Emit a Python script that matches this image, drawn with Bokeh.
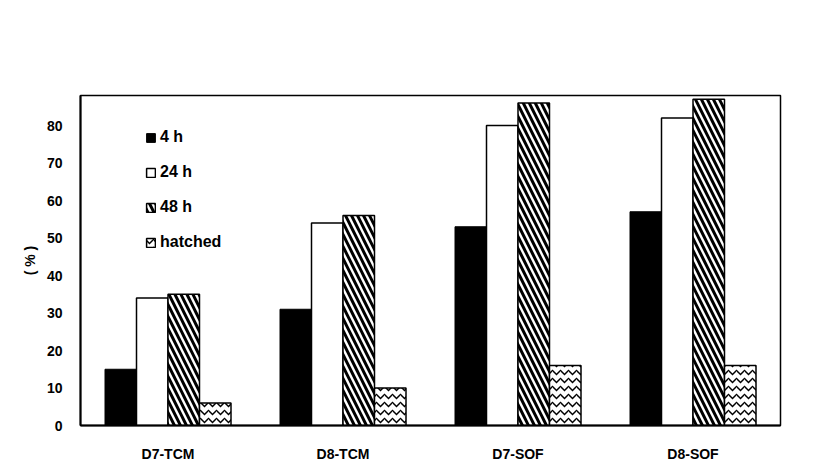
from bokeh.plotting import figure
from bokeh.models import FactorRange, Legend, LegendItem, SingleIntervalTicker, CustomJSTickFormatter
from bokeh.transform import dodge
from bokeh.models import ColumnDataSource
from bokeh.embed import file_html
from bokeh.resources import INLINE

groups = ["D7-TCM", "D8-TCM", "D7-SOF", "D8-SOF"]
h4 = [15, 31, 53, 57]
h24 = [34, 54, 80, 82]
h48 = [35, 56, 86, 87]
hatched = [6, 10, 16, 16]
series_labels = ["4 h", "24 h", "48 h", "hatched"]

src = ColumnDataSource(dict(g=groups, h4=h4, h24=h24, h48=h48, hatched=hatched))

p = figure(width=834, height=473, x_range=FactorRange(*groups), y_range=(0, 88),
           output_backend="svg", toolbar_location=None,
           min_border_left=80, min_border_right=54, min_border_top=95, min_border_bottom=48)

FONT = "Liberation Sans"
w = 0.18
r1 = p.vbar(x=dodge("g", -0.27, range=p.x_range), top="h4", width=w, source=src,
            fill_color="black", line_color="black")
r2 = p.vbar(x=dodge("g", -0.09, range=p.x_range), top="h24", width=w, source=src,
            fill_color="white", line_color="black", line_width=1.5)
r3 = p.vbar(x=dodge("g", 0.09, range=p.x_range), top="h48", width=w, source=src,
            fill_color="white", line_color="black", line_width=1.5,
            hatch_pattern="\\", hatch_color="black", hatch_weight=3, hatch_scale=12)
r4 = p.vbar(x=dodge("g", 0.27, range=p.x_range), top="hatched", width=w, source=src,
            fill_color="white", line_color="black", line_width=1.5,
            hatch_pattern="v", hatch_color="black", hatch_weight=1.5, hatch_scale=8)

legend = Legend(items=[LegendItem(label=l, renderers=[r]) for l, r in
                       zip(series_labels, [r1, r2, r3, r4])],
                location=(65, 174))
legend.padding = 0
legend.margin = 0
legend.glyph_width = 11
legend.glyph_height = 11
legend.label_height = 18
legend.label_standoff = 4
legend.spacing = 17
legend.label_text_font = FONT
legend.label_text_font_style = "bold"
legend.label_text_font_size = "16px"
legend.label_text_color = "black"
legend.border_line_color = None
legend.background_fill_alpha = 0
p.add_layout(legend, "center")

p.yaxis.ticker = SingleIntervalTicker(interval=10)
p.yaxis.formatter = CustomJSTickFormatter(code="return tick <= 80 ? String(tick) : '';")
p.yaxis.axis_label = "( % )"
p.yaxis.axis_label_text_font = FONT
p.yaxis.axis_label_text_font_style = "bold"
p.yaxis.axis_label_text_font_size = "14px"
p.yaxis.axis_label_text_color = "black"
p.yaxis.axis_label_standoff = 6
for ax in (p.xaxis, p.yaxis):
    ax.major_label_text_font = FONT
    ax.major_label_text_font_style = "bold"
    ax.major_label_text_font_size = "14px"
    ax.major_label_text_color = "black"
    ax.axis_line_color = "black"
    ax.axis_line_width = 2
    ax.major_tick_line_color = None
    ax.minor_tick_line_color = None
p.xaxis.major_label_standoff = 14
p.yaxis.major_label_standoff = 12

p.xgrid.grid_line_color = None
p.ygrid.grid_line_color = None
p.outline_line_color = "black"
p.outline_line_width = 1.5
p.x_range.range_padding = 0
p.background_fill_color = "white"

open("out.html", "w").write(file_html(p, INLINE))
